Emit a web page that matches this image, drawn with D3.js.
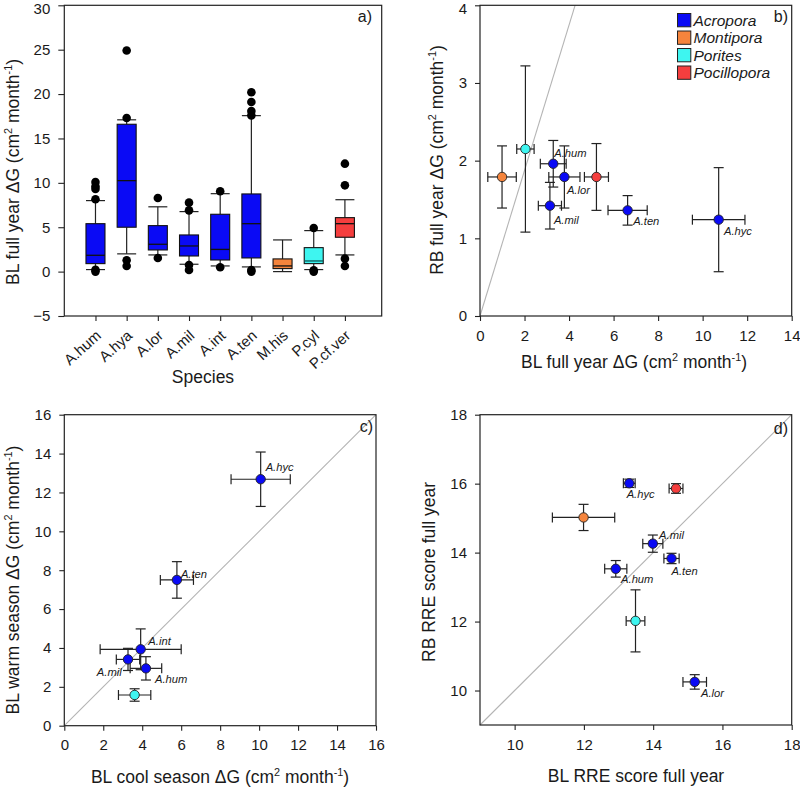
<!DOCTYPE html>
<html>
<head>
<meta charset="utf-8">
<script src="https://cdn.jsdelivr.net/npm/d3@7"></script>
<style>
  html, body { margin: 0; padding: 0; background: #fff; }
  svg { display: block; }
  text { font-family: "Liberation Sans", Arial, sans-serif; fill: #1a1a1a; }
</style>
</head>
<body>
<script>
// ---------------- DATA ----------------
// Panel a: box plots per species
const species = ["A.hum", "A.hya", "A.lor", "A.mil", "A.int", "A.ten", "M.his", "P.cyl", "P.cf.ver"];
const speciesGenus = ["Acropora", "Acropora", "Acropora", "Acropora", "Acropora", "Acropora", "Montipora", "Porites", "Pocillopora"];
const boxQ1 = [0.9, 5.0, 2.44, 1.76, 1.31, 1.54, 0.34, 0.9, 3.87];
const boxMedian = [1.84, 10.25, 3.08, 2.89, 2.5, 5.4, 0.64, 1.2, 5.4];
const boxQ3 = [5.4, 16.6, 5.18, 4.13, 6.46, 8.75, 1.43, 2.7, 6.08];
const whiskerLow = [0.23, 2.0, 1.88, 0.83, 0.64, 0.53, 0.0, 0.23, 1.88];
const whiskerHigh = [8.0, 17.1, 7.3, 6.76, 8.78, 17.57, 3.57, 4.62, 8.1];
const outliers = [
  [10.1, 9.6, 9.3, 8.15, 0.2, 0.0],
  [24.9, 17.3, 1.28, 0.64],
  [8.3, 1.54],
  [7.77, 6.9, 0.75, 0.19],
  [9.05, 0.49],
  [20.2, 19.1, 18.1, 17.6, 0.19, 0.0],
  [],
  [4.92, 0.15, 0.0],
  [12.16, 9.72, 1.46, 0.64]
];
const yTicksA = [-5, 0, 5, 10, 15, 20, 25, 30];

// Legend
const genera = ["Acropora", "Montipora", "Porites", "Pocillopora"];
const genusColor = { Acropora: "#0a0af5", Montipora: "#f5843c", Porites: "#3ef5f0", Pocillopora: "#f53e3e" };

// Panel b: BL vs RB full year growth
const bLabel = ["", "", "A.hum", "A.mil", "A.lor", "", "A.ten", "A.hyc"];
const bGenus = ["Montipora", "Porites", "Acropora", "Acropora", "Acropora", "Pocillopora", "Acropora", "Acropora"];
const bX = [0.99, 2.04, 3.29, 3.14, 3.79, 5.23, 6.63, 10.72];
const bXerr = [0.64, 0.39, 0.58, 0.52, 0.70, 0.54, 0.88, 1.18];
const bY = [1.79, 2.15, 1.96, 1.42, 1.79, 1.79, 1.36, 1.24];
const bYerr = [0.40, 1.07, 0.30, 0.30, 0.40, 0.43, 0.19, 0.67];
const bRefX = [0, 4.27];
const bRefY = [0, 4];
const xTicksB = [0, 2, 4, 6, 8, 10, 12, 14];
const yTicksB = [0, 1, 2, 3, 4];

// Panel c: cool vs warm season growth
const cLabel = ["A.hyc", "A.ten", "A.int", "A.mil", "A.hum", ""];
const cGenus = ["Acropora", "Acropora", "Acropora", "Acropora", "Acropora", "Porites"];
const cX = [10.08, 5.78, 3.92, 3.27, 4.19, 3.61];
const cXerr = [1.52, 0.85, 2.08, 0.60, 0.81, 0.83];
const cY = [12.68, 7.50, 3.93, 3.41, 2.95, 1.58];
const cYerr = [1.40, 0.94, 1.05, 0.57, 0.60, 0.32];
const cRefX = [0, 16];
const cRefY = [0, 16];
const ticksC = [0, 2, 4, 6, 8, 10, 12, 14, 16];

// Panel d: RRE scores
const dLabel = ["A.hyc", "", "", "A.mil", "A.ten", "A.hum", "", "A.lor"];
const dGenus = ["Acropora", "Pocillopora", "Montipora", "Acropora", "Acropora", "Acropora", "Porites", "Acropora"];
const dX = [13.31, 14.66, 11.99, 13.99, 14.53, 12.92, 13.49, 15.20];
const dXerr = [0.17, 0.20, 0.90, 0.29, 0.22, 0.32, 0.27, 0.34];
const dY = [16.01, 15.86, 15.02, 14.26, 13.83, 13.53, 12.02, 10.25];
const dYerr = [0.12, 0.14, 0.38, 0.25, 0.15, 0.24, 0.90, 0.21];
const dRefX = [9, 18];
const dRefY = [9, 18];
const ticksD = [10, 12, 14, 16, 18];

// ---------------- LAYOUT ----------------
const FONT_TICK = 15, FONT_TITLE = 17.5;
const svg = d3.select("body").append("svg").attr("width", 800).attr("height", 787);

function title(parent, x, y, rotate, parts, anchor) {
  const t = parent.append("text")
    .attr("text-anchor", anchor || "middle")
    .attr("font-size", FONT_TITLE)
    .attr("transform", `translate(${x},${y})` + (rotate ? ` rotate(${rotate})` : ""));
  let shifted = false;
  parts.forEach(p => {
    const s = t.append("tspan").text(p.t);
    if (p.sup) { s.attr("font-size", FONT_TITLE * 0.62).attr("dy", -7); shifted = true; }
    else if (shifted) { s.attr("dy", 7); shifted = false; }
  });
  return t;
}
const dgUnits = (pre) => [{t: pre + " (cm"}, {t: "2", sup: true}, {t: " month"}, {t: "-1", sup: true}, {t: ")"}];

function styleAxis(g) {
  g.select(".domain").remove();
  g.selectAll(".tick line").attr("stroke", "#222").attr("stroke-width", 1.1);
  g.selectAll(".tick text").attr("font-size", FONT_TICK).attr("fill", "#1a1a1a")
    .attr("font-family", "Liberation Sans, Arial, sans-serif");
}
// keep the topmost y tick label inside the picture
function nudgeTop(g) {
  g.selectAll(".tick text").filter((d, i, n) => i === n.length - 1).attr("dy", "0.56em");
}

function frame(g, x0, y0, x1, y1) {
  g.append("rect").attr("x", x0).attr("y", y0).attr("width", x1 - x0).attr("height", y1 - y0)
    .attr("fill", "none").attr("stroke", "#222").attr("stroke-width", 1.2);
}

// ---------------- PANEL A ----------------
(function () {
  const L = 64.3, R = 381.7, T = 5.3, B = 316;
  const g = svg.append("g");
  const x = d3.scaleLinear().domain([0, 10.18]).range([L, R]);
  const y = d3.scaleLinear().domain([-5, 30]).range([B, T]);
  const bw = 19;

  const ya = g.append("g").attr("transform", `translate(${L},0)`)
    .call(d3.axisLeft(y).tickValues(yTicksA).tickSize(6).tickPadding(8).tickSizeOuter(0));
  styleAxis(ya);
  nudgeTop(ya);

  const xa = g.append("g").attr("transform", `translate(0,${B})`)
    .call(d3.axisBottom(x).tickValues(species.map((d, i) => i + 1)).tickFormat(d => species[d - 1])
      .tickSize(5).tickSizeOuter(0));
  styleAxis(xa);
  xa.selectAll(".tick text")
    .attr("text-anchor", "end").attr("dy", 0).attr("y", 0).attr("font-size", 15)
    .attr("transform", "translate(6,21) rotate(-42)");

  species.forEach((s, i) => {
    const cx = x(i + 1);
    const col = genusColor[speciesGenus[i]];
    const gg = g.append("g");
    gg.append("line").attr("x1", cx).attr("x2", cx).attr("y1", y(whiskerLow[i])).attr("y2", y(boxQ1[i]))
      .attr("stroke", "#222").attr("stroke-width", 1.2);
    gg.append("line").attr("x1", cx).attr("x2", cx).attr("y1", y(boxQ3[i])).attr("y2", y(whiskerHigh[i]))
      .attr("stroke", "#222").attr("stroke-width", 1.2);
    [whiskerLow[i], whiskerHigh[i]].forEach(v => {
      gg.append("line").attr("x1", cx - bw / 2).attr("x2", cx + bw / 2).attr("y1", y(v)).attr("y2", y(v))
        .attr("stroke", "#222").attr("stroke-width", 1.2);
    });
    gg.append("rect").attr("x", cx - bw / 2).attr("width", bw)
      .attr("y", y(boxQ3[i])).attr("height", y(boxQ1[i]) - y(boxQ3[i]))
      .attr("fill", col).attr("stroke", "#111").attr("stroke-width", 1.1);
    gg.append("line").attr("x1", cx - bw / 2).attr("x2", cx + bw / 2)
      .attr("y1", y(boxMedian[i])).attr("y2", y(boxMedian[i]))
      .attr("stroke", i === 7 ? "#0a5a5a" : "#111").attr("stroke-width", 1.3);
    outliers[i].forEach(v => {
      gg.append("circle").attr("cx", cx).attr("cy", y(v)).attr("r", 4.3).attr("fill", "#000");
    });
  });

  frame(g, L, T, R, B);
  g.append("text").attr("x", 372).attr("y", 22).attr("text-anchor", "end").attr("font-size", 16).text("a)");
  title(g, 19, 172, -90, dgUnits("BL full year \u0394G"));
  g.append("text").attr("x", 203).attr("y", 383).attr("text-anchor", "middle").attr("font-size", FONT_TITLE).text("Species");
})();

// ---------------- SCATTER PANELS ----------------
function scatterPanel(cfg) {
  const g = svg.append("g");
  const x = d3.scaleLinear().domain(cfg.xDomain).range([cfg.L, cfg.R]);
  const y = d3.scaleLinear().domain(cfg.yDomain).range([cfg.B, cfg.T]);
  const fmt = d3.format("d");

  const xa = g.append("g").attr("transform", `translate(0,${cfg.B})`)
    .call(d3.axisBottom(x).tickValues(cfg.xTicks).tickFormat(fmt).tickSize(5).tickPadding(9).tickSizeOuter(0));
  styleAxis(xa);
  const ya = g.append("g").attr("transform", `translate(${cfg.L},0)`)
    .call(d3.axisLeft(y).tickValues(cfg.yTicks).tickFormat(fmt).tickSize(5).tickPadding(8).tickSizeOuter(0));
  styleAxis(ya);
  if (cfg.T < 10) nudgeTop(ya);

  // reference line
  g.append("line")
    .attr("x1", x(cfg.refX[0])).attr("y1", y(cfg.refY[0]))
    .attr("x2", x(cfg.refX[1])).attr("y2", y(cfg.refY[1]))
    .attr("stroke", "#b4b4b4").attr("stroke-width", 1.1);

  const cap = 5;
  cfg.xs.forEach((xv, i) => {
    const px = x(xv), py = y(cfg.ys[i]);
    const x0 = x(xv - cfg.xerr[i]), x1 = x(xv + cfg.xerr[i]);
    const y0 = y(cfg.ys[i] - cfg.yerr[i]), y1 = y(cfg.ys[i] + cfg.yerr[i]);
    const eg = g.append("g").attr("stroke", "#222").attr("stroke-width", 1.2);
    eg.append("line").attr("x1", x0).attr("x2", x1).attr("y1", py).attr("y2", py);
    eg.append("line").attr("x1", x0).attr("x2", x0).attr("y1", py - cap).attr("y2", py + cap);
    eg.append("line").attr("x1", x1).attr("x2", x1).attr("y1", py - cap).attr("y2", py + cap);
    eg.append("line").attr("x1", px).attr("x2", px).attr("y1", y0).attr("y2", y1);
    eg.append("line").attr("x1", px - cap).attr("x2", px + cap).attr("y1", y0).attr("y2", y0);
    eg.append("line").attr("x1", px - cap).attr("x2", px + cap).attr("y1", y1).attr("y2", y1);
  });
  cfg.xs.forEach((xv, i) => {
    g.append("circle").attr("cx", x(xv)).attr("cy", y(cfg.ys[i])).attr("r", 4.7)
      .attr("fill", genusColor[cfg.genus[i]]).attr("stroke", "#222").attr("stroke-width", 0.9);
  });
  cfg.labels.forEach((lab, i) => {
    if (!lab) return;
    const off = cfg.offsets[lab];
    g.append("text").attr("x", x(cfg.xs[i]) + off[0]).attr("y", y(cfg.ys[i]) + off[1])
      .attr("text-anchor", off[2] || "start")
      .attr("font-size", 11.2).attr("font-style", "italic").attr("fill", "#2b2b3a").text(lab);
  });

  frame(g, cfg.L, cfg.T, cfg.R, cfg.B);
  g.append("text").attr("x", cfg.tag[1]).attr("y", cfg.tag[2]).attr("text-anchor", "end")
    .attr("font-size", 16).text(cfg.tag[0]);
  if (cfg.xTitleParts) title(g, cfg.xTitlePos[0], cfg.xTitlePos[1], 0, cfg.xTitleParts);
  if (cfg.yTitleParts) title(g, cfg.yTitlePos[0], cfg.yTitlePos[1], -90, cfg.yTitleParts);
  return g;
}

// Panel b
const gb = scatterPanel({
  L: 480, R: 791.7, T: 5.3, B: 316,
  xDomain: [0, 14], yDomain: [0, 4], xTicks: xTicksB, yTicks: yTicksB,
  refX: bRefX, refY: bRefY,
  xs: bX, xerr: bXerr, ys: bY, yerr: bYerr, genus: bGenus, labels: bLabel,
  offsets: { "A.hum": [1, -6.5], "A.lor": [2.5, 17.3], "A.mil": [4, 18.3], "A.ten": [5.6, 14.3], "A.hyc": [5.3, 15.5] },
  tag: ["b)", 788, 22],
  xTitleParts: dgUnits("BL full year \u0394G"), xTitlePos: [634, 368],
  yTitleParts: dgUnits("RB full year \u0394G"), yTitlePos: [443, 160]
});
// legend
(function () {
  const lg = gb.append("g");
  genera.forEach((gname, i) => {
    const cy = 20 + i * 17.5;
    lg.append("rect").attr("x", 677.5).attr("y", cy - 6.5).attr("width", 13.3).attr("height", 13.3)
      .attr("fill", genusColor[gname]).attr("stroke", "#222").attr("stroke-width", 1);
    lg.append("text").attr("x", 693.5).attr("y", cy + 5.5).attr("font-size", 15.5)
      .attr("font-style", "italic").text(gname);
  });
})();

// Panel c
scatterPanel({
  L: 64.3, R: 376, T: 414.7, B: 725.7,
  xDomain: [0, 16], yDomain: [0, 16], xTicks: ticksC, yTicks: ticksC,
  refX: cRefX, refY: cRefY,
  xs: cX, xerr: cXerr, ys: cY, yerr: cYerr, genus: cGenus, labels: cLabel,
  offsets: { "A.hyc": [5, -8], "A.ten": [4, -2.3], "A.int": [7.7, -4.3], "A.mil": [-6.3, 16.4, "end"], "A.hum": [9, 14.4] },
  tag: ["c)", 373, 432],
  xTitleParts: dgUnits("BL cool season \u0394G"), xTitlePos: [220, 783],
  yTitleParts: dgUnits("BL warm season \u0394G"), yTitlePos: [19, 580]
});

// Panel d
scatterPanel({
  L: 480, R: 791.7, T: 414.7, B: 725,
  xDomain: [9, 18], yDomain: [9, 18], xTicks: ticksD, yTicks: ticksD,
  refX: dRefX, refY: dRefY,
  xs: dX, xerr: dXerr, ys: dY, yerr: dYerr, genus: dGenus, labels: dLabel,
  offsets: { "A.hyc": [-2.6, 14.4], "A.mil": [6.3, -4.7], "A.ten": [0, 16.3], "A.hum": [5.3, 14.3], "A.lor": [6.3, 15.4] },
  tag: ["d)", 788, 434],
  xTitleParts: [{t: "BL RRE score full year"}], xTitlePos: [636, 782],
  yTitleParts: [{t: "RB RRE score full year"}], yTitlePos: [435, 572]
});
</script>
</body>
</html>
